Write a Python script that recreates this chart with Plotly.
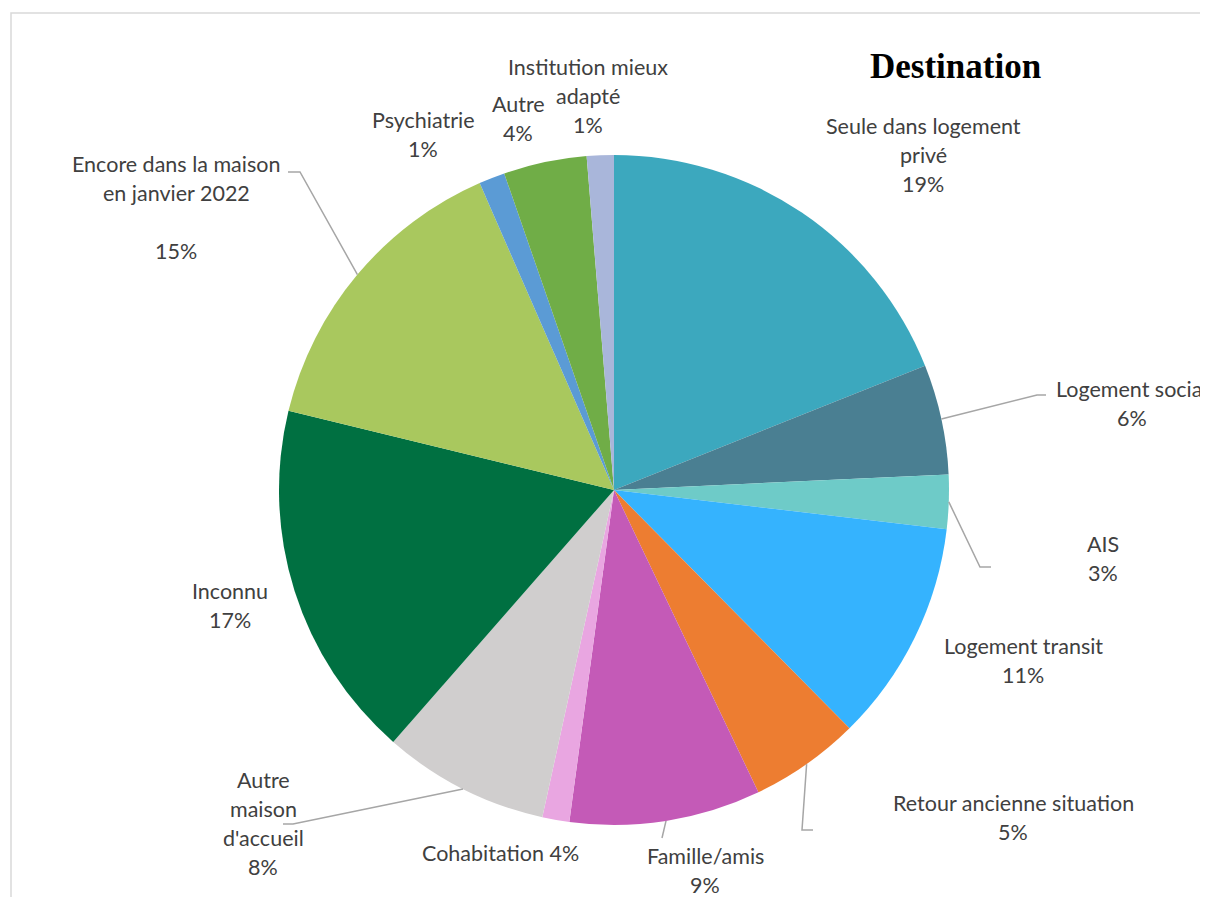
import math
import plotly.graph_objects as go

# ---- data ----
categories = [
    "Seule dans logement privé", "Logement social", "AIS", "Logement transit",
    "Retour ancienne situation", "Famille/amis", "Cohabitation",
    "Autre maison d'accueil", "Inconnu", "Encore dans la maison en janvier 2022",
    "Psychiatrie", "Autre", "Institution mieux adapté",
]
values = [18.9, 5.3, 2.6, 10.7, 5.3, 9.2, 1.3, 8.0, 17.3, 14.6, 1.25, 4.0, 1.3]
label_lines = [
    ["Seule dans logement", "privé", "19%"],
    ["Logement social", "6%"],
    ["AIS", "3%"],
    ["Logement transit", "11%"],
    ["Retour ancienne situation", "5%"],
    ["Famille/amis", "9%"],
    ["Cohabitation 4%"],
    ["Autre", "maison", "d'accueil", "8%"],
    ["Inconnu", "17%"],
    ["Encore dans la maison", "en janvier 2022", "", "15%"],
    ["Psychiatrie", "1%"],
    ["Autre", "4%"],
    ["Institution mieux", "adapté", "1%"],
]
colors = [
    "#3CA8BE", "#4A7F92", "#6ECBC8", "#35B3FE", "#ED7D31", "#C45AB7", "#E9A6E1",
    "#D0CECE", "#007041", "#A9C85E", "#5B9BD5", "#70AD47", "#A9B6DA",
]

# ---- layout constants (page pixels) ----
W, H = 1208, 897
OFF = 8  # page body margin
CX, CY, R = 614, 490, 335
LINE_H = 29
FONT = "Lato"
TXT = "#404040"
label_pos = [
    (923, 126), (1132, 389), (1103, 544), (1023, 646), (1013, 803), (705, 856),
    (500, 853), (263, 780), (230, 591), (176, 164), (423, 120), (518, 104), (588, 67),
]
leaders = {
    1: [(1037, 395), (1046, 395)],
    2: [(980, 567), (991, 567)],
    4: [(802, 830), (813, 830)],
    5: [(662, 838)],
    7: [(293, 824), (283, 824)],
    9: [(300, 172), (288, 172)],
}

def px(x):
    return (x - OFF) / W

def py(y):
    return 1 - (y - OFF) / H

fig = go.Figure(go.Pie(
    labels=categories, values=values, sort=False, direction="clockwise",
    rotation=0, marker=dict(colors=colors, line=dict(width=0)),
    textinfo="none", hoverinfo="label+percent", showlegend=False,
    domain=dict(x=[px(CX - R), px(CX + R)], y=[py(CY + R), py(CY - R)]),
))

annotations = []
for lines, (lx, ly) in zip(label_lines, label_pos):
    for k, t in enumerate(lines):
        if not t:
            continue
        annotations.append(dict(
            text=t, x=px(lx), y=py(ly + k * LINE_H), xref="paper", yref="paper",
            xanchor="center", yanchor="middle", showarrow=False,
            font=dict(family=FONT, size=21.5, color=TXT),
        ))
annotations.append(dict(
    text="<b>Destination</b>", x=px(955), y=py(66), xref="paper", yref="paper",
    xanchor="center", yanchor="middle", showarrow=False,
    font=dict(family="Liberation Serif", size=35, color="#000000"),
))

shapes = []
total = sum(values)
cum = 0.0
for i, v in enumerate(values):
    mid = (cum + v / 2) / total * 2 * math.pi
    cum += v
    if i not in leaders:
        continue
    ax = CX + R * math.sin(mid)
    ay = CY - R * math.cos(mid)
    pts = [(ax, ay)] + leaders[i]
    path = "M " + " L ".join(f"{px(x):.5f},{py(y):.5f}" for x, y in pts)
    shapes.append(dict(type="path", path=path, xref="paper", yref="paper",
                       line=dict(color="#A6A6A6", width=1.5)))

shapes.append(dict(type="rect", xref="paper", yref="paper",
                   x0=px(11), x1=px(1240), y0=py(930), y1=py(13),
                   line=dict(color="#D9D9D9", width=1.5), fillcolor="rgba(0,0,0,0)"))

fig.update_layout(
    width=W, height=H, margin=dict(l=0, r=0, t=0, b=0),
    paper_bgcolor="white", plot_bgcolor="white",
    annotations=annotations, shapes=shapes,
)

fig.write_html("out.html")
